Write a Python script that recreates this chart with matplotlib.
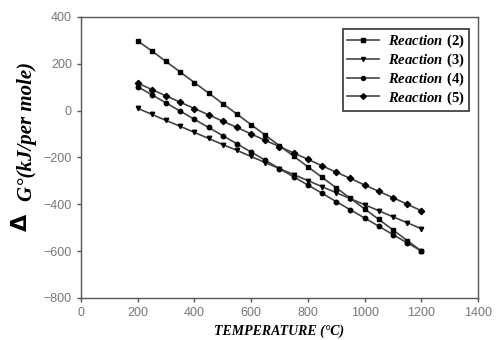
import matplotlib.pyplot as plt

# temperature points (degC)
temp = [200, 250, 300, 350, 400, 450, 500, 550, 600, 650, 700,
        750, 800, 850, 900, 950, 1000, 1050, 1100, 1150, 1200]

# delta G values (kJ/per mole)
r2 = [298, 255, 210, 165, 120, 75, 30, -15, -60, -105, -150,
      -195, -240, -285, -330, -375, -420, -465, -510, -555, -600]
r3 = [10, -16, -42, -67, -93, -119, -145, -170, -196, -222, -248,
      -273, -299, -325, -351, -376, -402, -428, -454, -479, -505]
r4 = [102, 68, 33, -2, -37, -72, -107, -142, -177, -212, -248,
      -283, -318, -353, -389, -424, -459, -494, -530, -565, -600]
r5 = [118, 90, 63, 36, 9, -18, -45, -72, -100, -127, -154,
      -181, -208, -236, -263, -290, -318, -345, -372, -400, -428]

names = ['Reaction', 'Reaction', 'Reaction', 'Reaction']
nums = ['(2)', '(3)', '(4)', '(5)']
markers = ['s', 'v', 'o', 'D']

plt.rcParams['mathtext.fontset'] = 'custom'
plt.rcParams['mathtext.it'] = 'Liberation Serif:italic:bold'
plt.rcParams['mathtext.bf'] = 'Liberation Serif:bold'
plt.rcParams['mathtext.rm'] = 'Liberation Serif:bold'

fig = plt.figure(figsize=(4.96, 3.4), dpi=100)
ax = fig.add_axes([0.163, 0.124, 0.801, 0.826])

for ys, mk, nm, n in zip([r2, r3, r4, r5], markers, names, nums):
    ax.plot(temp, ys, color='#444444', lw=1.2, marker=mk, ms=3.2,
            mfc='black', mec='black',
            label=r'$\mathit{' + nm + r'}$ $\mathbf{' + n + '}$')

ax.set_xlim(0, 1400)
ax.set_ylim(-800, 400)
ax.set_xticks(range(0, 1401, 200))
ax.set_yticks(range(-800, 401, 200))
ax.tick_params(direction='out', length=3, width=1, colors='#555555',
               labelsize=9, labelcolor='#777777')
for lab in ax.get_xticklabels() + ax.get_yticklabels():
    lab.set_fontfamily('Liberation Sans')
for sp in ax.spines.values():
    sp.set_color('#555555')
    sp.set_linewidth(1)

leg = ax.legend(loc='upper right', bbox_to_anchor=(0.995, 0.985),
                frameon=True, fancybox=False, fontsize=10.5,
                handlelength=2.2, labelspacing=0.1, borderpad=0.3,
                handletextpad=0.6, markerscale=0.9)
leg.get_frame().set_edgecolor('black')
leg.get_frame().set_linewidth(1.2)

ax.set_xlabel('TEMPERATURE (°C)', fontfamily='Liberation Serif',
              fontstyle='italic', fontweight='bold', fontsize=10, labelpad=4)

fig.text(0.042, 0.347, 'Δ', fontfamily='DejaVu Sans', fontweight='bold',
         fontsize=16, rotation=90, ha='center', va='center')
fig.text(0.054, 0.612, 'G°(kJ/per mole)', fontfamily='Liberation Serif',
         fontstyle='italic', fontweight='bold', fontsize=15, rotation=90,
         ha='center', va='center')

plt.savefig('out.png', dpi=100)
